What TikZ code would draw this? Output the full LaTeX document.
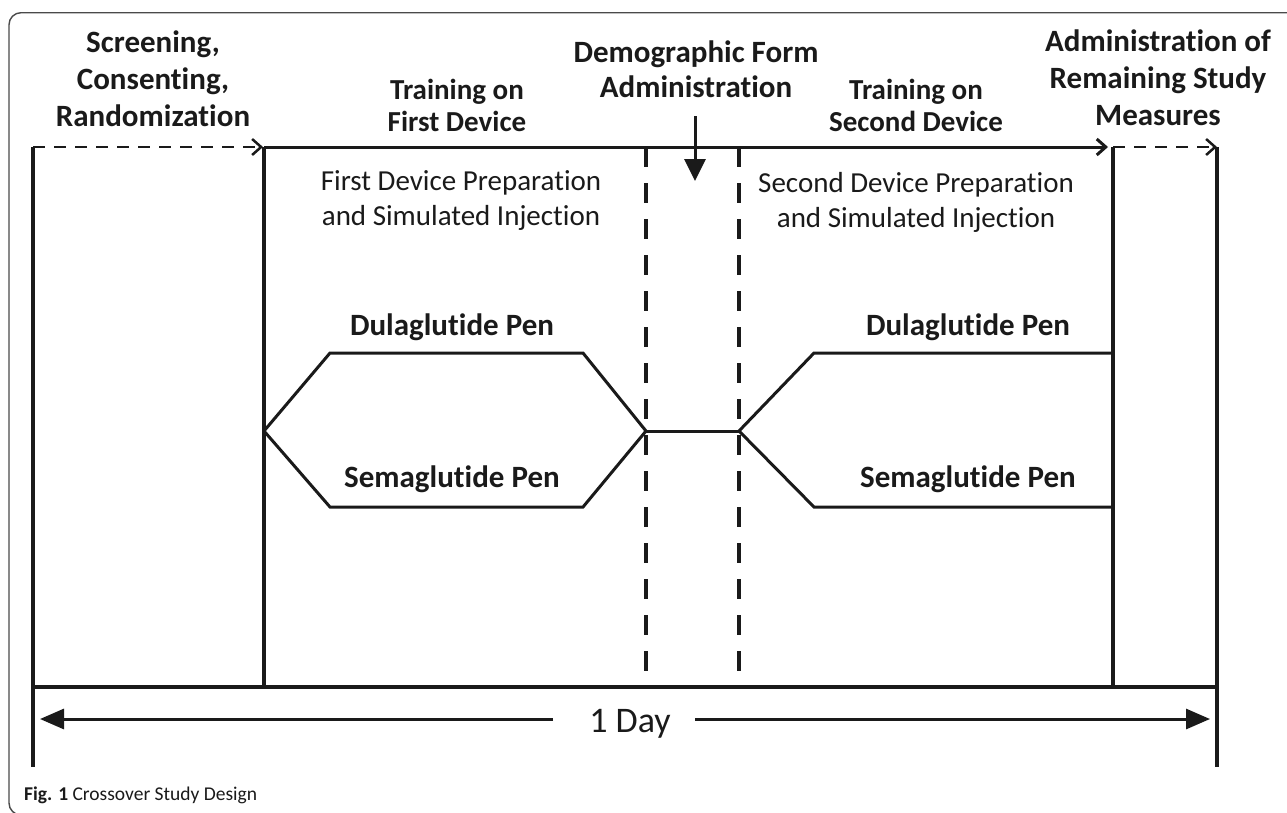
\documentclass[tikz,border=0pt]{standalone}
\usepackage{fontspec}
\setmainfont{Carlito}[Ligatures={NoCommon,NoContextual}]
\usetikzlibrary{arrows.meta}
\definecolor{ink}{HTML}{1A1A1A}
\definecolor{framec}{HTML}{4A4A4A}
\tikzset{
  solid4/.style={draw=ink, line width=4pt},
  solid3/.style={draw=ink, line width=3pt},
  dashv/.style={draw=ink, line width=4.5pt, dash pattern=on 20pt off 16pt},
  dashh/.style={draw=ink, line width=2.5pt, dash pattern=on 12pt off 9pt},
  opentip/.style={-{Straight Barb[length=9pt,width=16pt]}},
  filltip/.style={-{Triangle[length=22pt,width=21pt]}},
  hd/.style={font=\bfseries\fontsize{31}{37}\selectfont, anchor=base, inner sep=0pt, text=ink},
  tr/.style={font=\bfseries\fontsize{29}{32}\selectfont, anchor=base, inner sep=0pt, text=ink},
  rg/.style={font=\fontsize{29}{35}\selectfont, anchor=base, inner sep=0pt, text=ink},
  pen/.style={font=\bfseries\fontsize{31}{37}\selectfont, anchor=base, inner sep=0pt, text=ink},
  daylbl/.style={font=\fontsize{36}{40}\selectfont, anchor=base, inner sep=0pt, text=ink},
  caplbl/.style={font=\fontsize{19.5}{24}\selectfont, anchor=base west, inner sep=0pt, text=ink}
}
\begin{document}
\begin{tikzpicture}[x=1pt,y=-1pt]
\useasboundingbox (0,0) rectangle (1287,812);
% frame
\begin{scope}
  \clip (0,0) rectangle (1287,812);
  \draw[draw=framec, line width=1.4pt, rounded corners=12pt] (9,12.7) rectangle (1300,815);
\end{scope}

% key coordinates
\coordinate (v0t) at (33,147);   \coordinate (v0b) at (33,767);
\coordinate (v1t) at (264,147);  \coordinate (v1b) at (264,687);
\coordinate (d1t) at (646,147);  \coordinate (d1b) at (646,687);
\coordinate (d2t) at (739,147);  \coordinate (d2b) at (739,687);
\coordinate (v2t) at (1113,147); \coordinate (v2b) at (1113,687);
\coordinate (v3t) at (1217,147); \coordinate (v3b) at (1217,767);
\coordinate (bl) at (33,687);    \coordinate (br) at (1217,687);

% vertical lines
\draw[solid4] (v0t) -- (v0b);
\draw[solid4] (v1t) -- (v1b);
\draw[solid4] (v2t) -- (v2b);
\draw[solid4] (v3t) -- (v3b);
\draw[dashv] (d1t) -- (d1b);
\draw[dashv] (d2t) -- (d2b);
% bottom line
\draw[draw=ink, line width=3.5pt] (bl) -- (br);

% top arrows
\draw[dashh, opentip] (v0t) -- ([xshift=-1pt]v1t);
\draw[solid3, opentip] (v1t) -- ([xshift=-5pt]v2t);
\draw[dashh, opentip] (v2t) -- (v3t);

% pathways
\coordinate (hl) at (264,431);
\coordinate (htl) at (330,353); \coordinate (htr) at (583,353);
\coordinate (hr) at (646,431);
\coordinate (hbr) at (583,507); \coordinate (hbl) at (330,507);
\coordinate (ml) at (739,431);
\coordinate (rtl) at (814,353); \coordinate (rte) at (1113,353);
\coordinate (rbl) at (814,507); \coordinate (rbe) at (1113,507);
\draw[solid3, line join=miter] (hl) -- (htl) -- (htr) -- (hr) -- (hbr) -- (hbl) -- cycle;
\draw[solid3] (hr) -- (ml);
\draw[solid3, line join=miter] (rte) -- (rtl) -- (ml) -- (rbl) -- (rbe);

% demographic arrow
\coordinate (demtop) at (695,116);
\coordinate (demtip) at (695,181);
\draw[solid3, filltip] (demtop) -- (demtip);

% 1 day arrows
\coordinate (dayL1) at (553,719); \coordinate (dayL2) at (40,719);
\coordinate (dayR1) at (695,719); \coordinate (dayR2) at (1210,719);
\draw[solid3, -{Triangle[length=24pt,width=20pt]}] (dayL1) -- (dayL2);
\draw[solid3, -{Triangle[length=24pt,width=20pt]}] (dayR1) -- (dayR2);

% headings
\node[hd] (scr1) at (153,52) {Screening,};
\node[hd] (scr2) at (153,89) {Consenting,};
\node[hd] (scr3) at (153,126) {Randomization};
\node[tr] (tf1) at (457,99) {Training on};
\node[tr] (tf2) at (457,131) {First Device};
\node[hd] (dem1) at (696,62) {Demographic Form};
\node[hd] (dem2) at (696,97) {Administration};
\node[tr] (ts1) at (916,99) {Training on};
\node[tr] (ts2) at (916,131) {Second Device};
\node[hd] (adm1) at (1158,51) {Administration of};
\node[hd] (adm2) at (1158,88) {Remaining Study};
\node[hd] (adm3) at (1158,125) {Measures};

% activity text
\node[rg] (fp1) at (461,190) {First Device Preparation};
\node[rg] (fp2) at (461,225) {and Simulated Injection};
\node[rg] (sp1) at (916,192) {Second Device Preparation};
\node[rg] (sp2) at (916,227) {and Simulated Injection};

% pens
\node[pen] (dul1) at (452,335) {Dulaglutide Pen};
\node[pen] (sem1) at (452,487) {Semaglutide Pen};
\node[pen] (dul2) at (968,335) {Dulaglutide Pen};
\node[pen] (sem2) at (968,487) {Semaglutide Pen};

% day
\node[daylbl] (day) at (630,732) {1 Day};

% caption
\node[caplbl] (cap) at (24,800) {\textbf{Fig. 1} Crossover Study Design};
\end{tikzpicture}
\end{document}
